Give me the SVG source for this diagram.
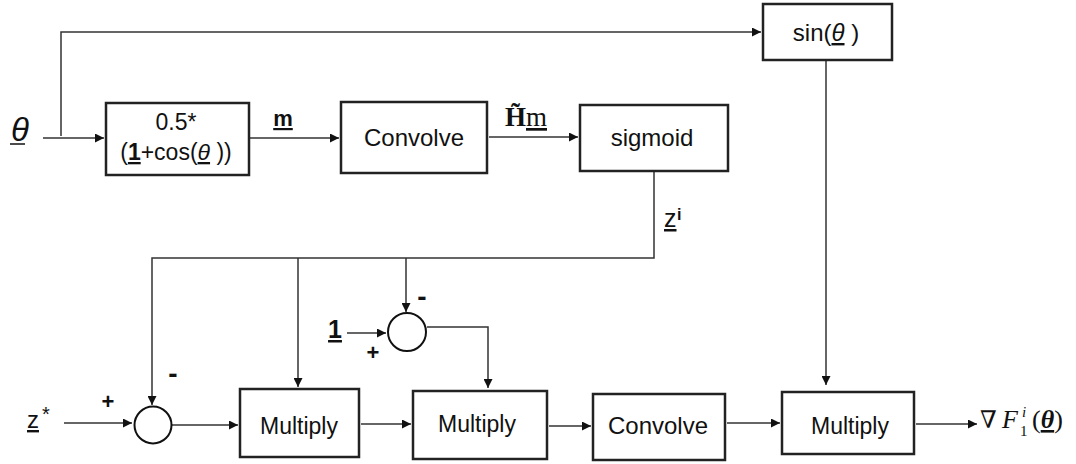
<svg xmlns="http://www.w3.org/2000/svg" width="1076" height="464" viewBox="0 0 1076 464">
<style>
.box{fill:#fff;stroke:#222;stroke-width:2.5}
.sum{fill:#fff;stroke:#111;stroke-width:2}
.ln{fill:none;stroke:#333;stroke-width:1.5}
.t{font-family:"Liberation Sans",Arial,sans-serif;font-size:24px;fill:#111;text-anchor:middle}
.tm{font-size:23px}
.s{font-family:"Liberation Serif","DejaVu Serif",serif;fill:#111}
.sa{font-family:"Liberation Sans",Arial,sans-serif;fill:#111}
.sg{font-family:"Liberation Sans",Arial,sans-serif;font-weight:bold;fill:#111}
.ul{stroke:#111;stroke-width:1.5}
</style>
<defs>
<marker id="a" viewBox="0 0 10 10" refX="10" refY="5" markerWidth="10" markerHeight="9" markerUnits="userSpaceOnUse" orient="auto"><path d="M0,0L10,5L0,10z" fill="#111"/></marker>
</defs>
<g id="connectors">
<path class="ln" d="M43,138H104" marker-end="url(#a)"/>
<path class="ln" d="M61,136V32H761" marker-end="url(#a)"/>
<path class="ln" d="M250,138H339" marker-end="url(#a)"/>
<path class="ln" d="M489,137H578" marker-end="url(#a)"/>
<path class="ln" d="M654,172V258H152V405" marker-end="url(#a)"/>
<path class="ln" d="M298,258V387" marker-end="url(#a)"/>
<path class="ln" d="M406,258V312" marker-end="url(#a)"/>
<path class="ln" d="M826,61V385" marker-end="url(#a)"/>
<path class="ln" d="M64,423H132" marker-end="url(#a)"/>
<path class="ln" d="M171,425H238" marker-end="url(#a)"/>
<path class="ln" d="M347,333H386" marker-end="url(#a)"/>
<path class="ln" d="M427,327L488,327V388" marker-end="url(#a)"/>
<path class="ln" d="M361,424H411" marker-end="url(#a)"/>
<path class="ln" d="M549,426H591" marker-end="url(#a)"/>
<path class="ln" d="M727,423H780" marker-end="url(#a)"/>
<path class="ln" d="M916,424H977" marker-end="url(#a)"/>
</g>
<g id="theta-in">
<text x="20" y="141" class="sa" font-size="33" font-style="italic" text-anchor="middle">θ</text>
<line class="ul" x1="10" y1="144" x2="25" y2="144"/>
</g>
<g id="box-cos">
<rect class="box" x="106" y="103" width="143" height="72"/>
<text class="t tm" x="176" y="130">0.5*</text>
<text class="t tm" x="176" y="160">(<tspan font-weight="bold" text-decoration="underline">1</tspan>+cos(<tspan font-style="italic" text-decoration="underline">θ</tspan> ))</text>
</g>
<g id="label-m">
<text x="283" y="126" class="sg" font-size="22" text-anchor="middle" text-decoration="underline">m</text>
</g>
<g id="convolve1">
<rect class="box" x="341" y="102" width="146" height="71"/>
<text class="t" x="414" y="146">Convolve</text>
</g>
<g id="label-Hm">
<text x="526" y="126" class="s" font-size="27" font-weight="bold" text-anchor="middle">H̃<tspan font-weight="normal" text-decoration="underline">m</tspan></text>
</g>
<g id="sigmoid">
<rect class="box" x="580" y="105" width="148" height="66"/>
<text class="t" x="652" y="146">sigmoid</text>
</g>
<g id="sin">
<rect class="box" x="763" y="4" width="129" height="56"/>
<text class="t" x="826" y="41">sin(<tspan font-style="italic" text-decoration="underline">θ</tspan> )</text>
</g>
<g id="label-zi">
<text x="664" y="227" class="sa" font-size="25" text-decoration="underline">z</text>
<text x="677" y="220" class="sg" font-size="16">i</text>
</g>
<g id="sum1">
<circle class="sum" cx="153" cy="425" r="18.5"/>
<text x="108" y="409" class="sg" font-size="22" text-anchor="middle">+</text>
<text x="173" y="383" class="sg" font-size="28" text-anchor="middle">-</text>
</g>
<g id="label-zstar">
<text x="27" y="428" class="sa" font-size="24" text-decoration="underline">z</text>
<text x="42" y="421" class="sa" font-size="20">*</text>
</g>
<g id="sum2">
<circle class="sum" cx="407" cy="332" r="19"/>
<text x="335" y="338" class="sg" font-size="25" text-anchor="middle" text-decoration="underline">1</text>
<text x="373" y="360" class="sg" font-size="22" text-anchor="middle">+</text>
<text x="422" y="306" class="sg" font-size="28" text-anchor="middle">-</text>
</g>
<g id="multiply1">
<rect class="box" x="240" y="389" width="119" height="68"/>
<text class="t tm" x="299" y="434">Multiply</text>
</g>
<g id="multiply2">
<rect class="box" x="413" y="391" width="134" height="68"/>
<text class="t tm" x="477" y="432">Multiply</text>
</g>
<g id="convolve2">
<rect class="box" x="593" y="394" width="132" height="66"/>
<text class="t" x="658" y="434">Convolve</text>
</g>
<g id="multiply4">
<rect class="box" x="782" y="392" width="132" height="62"/>
<text class="t tm" x="850" y="434">Multiply</text>
</g>
<g id="output-label">
<text x="980" y="428" font-family="DejaVu Serif,serif" font-size="24" fill="#111">∇</text>
<text x="1002" y="428" class="s" font-size="26" font-style="italic">F</text>
<text x="1020" y="436" class="s" font-size="15">1</text>
<text x="1022" y="417" class="s" font-size="15" font-style="italic">i</text>
<text x="1032" y="428" class="s" font-size="26">(<tspan font-weight="bold" font-style="italic" text-decoration="underline">θ</tspan>)</text>
</g>
</svg>
